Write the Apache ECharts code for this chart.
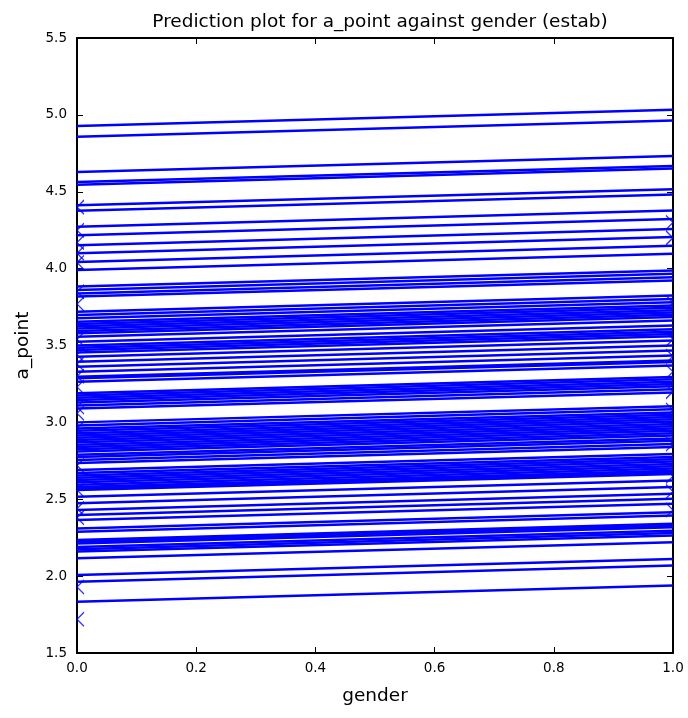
<!DOCTYPE html>
<html>
<head>
<meta charset="utf-8">
<script src="https://cdn.jsdelivr.net/npm/echarts@6/dist/echarts.min.js"></script>
<style>html,body{margin:0;padding:0;background:#fff;}#c{width:688px;height:718px;}</style>
</head>
<body>
<div id="c"></div>
<script>
// Predicted a_point at gender = 0 for each group
var intercepts = [
  4.928, 4.858, 4.628, 4.563, 4.546, 4.412, 4.377, 4.273, 4.217, 4.152, 4.100, 4.043, 3.991,
  3.883, 3.861, 3.839, 3.818,
  3.720, 3.698, 3.677, 3.655, 3.640, 3.625, 3.610, 3.595, 3.580, 3.557, 3.525,
  3.500, 3.485, 3.470, 3.455, 3.427, 3.395, 3.362, 3.330, 3.297, 3.287, 3.265,
  3.190, 3.175, 3.160, 3.145, 3.130, 3.110, 3.090, 3.000, 2.980, 2.960,
  2.945, 2.930, 2.915, 2.900, 2.885, 2.870, 2.855, 2.840, 2.825, 2.810, 2.790, 2.775, 2.755, 2.735,
  2.690, 2.670, 2.655, 2.640, 2.625, 2.610, 2.595, 2.580, 2.570, 2.560,
  2.517, 2.474, 2.430, 2.398, 2.365, 2.310, 2.289, 2.235, 2.224, 2.213, 2.190, 2.175, 2.160, 2.116,
  2.007, 1.964, 1.834
];
// common gender effect (slope)
var genderEffect = 0.105;
// observed points at gender = 0 and gender = 1
var observedAt0 = [4.40, 4.25, 4.17, 4.10, 4.04, 3.85, 3.77, 3.54, 3.44, 3.38, 3.30, 3.23, 3.10, 3.06, 2.96, 2.72, 2.56, 2.44, 2.38, 1.93, 1.72];
var observedAt1 = [4.30, 4.20, 3.78, 3.54, 3.43, 3.33, 3.20, 3.08, 2.86, 2.65, 2.55, 2.43];
var xTicks = [0.0, 0.2, 0.4, 0.6, 0.8, 1.0];
var yTicks = [1.5, 2.0, 2.5, 3.0, 3.5, 4.0, 4.5, 5.0, 5.5];

var BLUE = '#0000ff';
var FONT = 'DejaVu Sans';
var series = intercepts.map(function (a) {
  return {
    type: 'line', xAxisIndex: 0, yAxisIndex: 0,
    data: [[0, a], [1, a + genderEffect]],
    symbol: 'none', silent: true, animation: false,
    lineStyle: { color: BLUE, width: 2.5 }
  };
});
// 'x' markers, clipped by the plot frame: only the inner half is visible
series.push({
  type: 'scatter', xAxisIndex: 0, yAxisIndex: 0, animation: false,
  data: observedAt0.map(function (v) { return [0, v]; }),
  symbol: 'path://M10,0L0,10L10,20', symbolSize: [7, 14], symbolOffset: [3.5, 0],
  itemStyle: { color: 'none', borderColor: BLUE, borderWidth: 1.2 }
});
series.push({
  type: 'scatter', xAxisIndex: 0, yAxisIndex: 0, animation: false,
  data: observedAt1.map(function (v) { return [1, v]; }),
  symbol: 'path://M0,0L10,10L0,20', symbolSize: [7, 14], symbolOffset: [-3.5, 0],
  itemStyle: { color: 'none', borderColor: BLUE, borderWidth: 1.2 }
});

var axisCommon = {
  axisLine: { show: true, onZero: false, lineStyle: { color: '#000', width: 2 } },
  axisTick: { show: true, inside: true, length: 6, lineStyle: { color: '#000', width: 1 } },
  splitLine: { show: false }
};
function fmt(v) { return v.toFixed(1); }
var chart = echarts.init(document.getElementById('c'), null, { renderer: 'canvas' });
chart.setOption({
  backgroundColor: '#fff',
  animation: false,
  title: {
    text: 'Prediction plot for a_point against gender (estab)',
    left: 375, top: 8, textAlign: 'center',
    textStyle: { fontFamily: FONT, fontSize: 18.5, fontWeight: 'normal', color: '#000' }
  },
  grid: { left: 77, right: 15, top: 38, bottom: 65, containLabel: false },
  xAxis: [
    Object.assign({
      type: 'value', min: 0, max: 1, interval: 0.2, position: 'bottom',
      name: 'gender', nameLocation: 'middle', nameGap: 34,
      nameTextStyle: { fontFamily: FONT, fontSize: 18.5, color: '#000' },
      axisLabel: { fontFamily: FONT, fontSize: 13.5, color: '#000', margin: 8, formatter: fmt }
    }, axisCommon),
    Object.assign({
      type: 'value', min: 0, max: 1, interval: 0.2, position: 'top',
      axisLabel: { show: false }
    }, axisCommon)
  ],
  yAxis: [
    Object.assign({
      type: 'value', min: 1.5, max: 5.5, interval: 0.5, position: 'left',
      name: 'a_point', nameLocation: 'middle', nameGap: 44, nameRotate: 90,
      nameTextStyle: { fontFamily: FONT, fontSize: 18.5, color: '#000' },
      axisLabel: { fontFamily: FONT, fontSize: 13.5, color: '#000', margin: 10, formatter: fmt }
    }, axisCommon),
    Object.assign({
      type: 'value', min: 1.5, max: 5.5, interval: 0.5, position: 'right',
      axisLabel: { show: false }
    }, axisCommon)
  ],
  series: series
});
</script>
</body>
</html>
